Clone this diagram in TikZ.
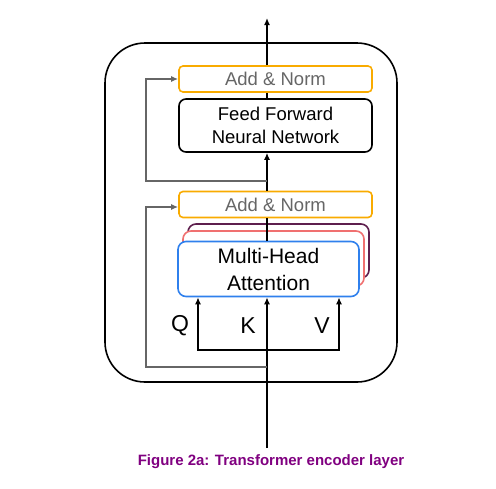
\documentclass[tikz,border=0pt]{standalone}
\usepackage{fontspec}
\setmainfont{Liberation Sans}
\usetikzlibrary{arrows.meta}
\definecolor{orng}{HTML}{F9AB00}
\definecolor{blu}{HTML}{2F80ED}
\definecolor{pnk}{HTML}{F07070}
\definecolor{plum}{HTML}{5E1F4E}
\definecolor{gry}{HTML}{666666}
\definecolor{capt}{HTML}{800080}
\begin{document}
\begin{tikzpicture}[x=1pt,y=-1pt,
  normbox/.style={draw=orng,line width=1.6pt,rounded corners=4pt,fill=white,minimum width=193pt,minimum height=26pt,inner sep=0pt,text=gry,font=\fontsize{18.5}{22}\selectfont},
  ffbox/.style={draw=black,line width=1.6pt,rounded corners=7pt,fill=white,minimum width=193pt,minimum height=53pt,inner sep=0pt,align=center,font=\fontsize{18.5}{23}\selectfont},
  attbox/.style={line width=1.6pt,rounded corners=8pt,fill=white,minimum width=181pt,minimum height=55pt,inner sep=0pt,align=center,font=\fontsize{21}{27}\selectfont},
  blk/.style={line width=1.6pt,-{Latex[length=7pt,width=6pt]}},
  res/.style={draw=gry,line width=1.6pt,-{Latex[length=7pt,width=6pt]}},
  lbl/.style={font=\fontsize{23}{23}\selectfont,inner sep=0pt}]
\useasboundingbox (0,0) rectangle (496,488);
% outer frame
\node[draw,line width=1.6pt,rounded corners=40pt,minimum width=292pt,minimum height=339pt,inner sep=0pt] (frame) at (251,212.5) {};
% boxes
\node[normbox] (an1) at (275.5,79) {Add \& Norm};
\node[ffbox] (ff) at (275.5,125.5) {Feed Forward\\Neural Network};
\node[normbox] (an2) at (275.5,204.5) {Add \& Norm};
\node[attbox,draw=plum,minimum width=181pt,minimum height=54pt] (h3) at (278.5,251) {};
\node[attbox,draw=pnk] (h2) at (273.5,258.5) {};
\node[attbox,draw=blu] (mha) at (268.5,269) {Multi-Head\\Attention};
% coordinates
\coordinate (top) at (267,18);
\coordinate (bot) at (267,448);
\coordinate (qx) at (198,350);
\coordinate (vx) at (339,350);
\coordinate (r1) at (267,181);
\coordinate (r2) at (267,367);
% main flow
\draw[blk] (bot) -- (mha.south -| bot);
\draw[line width=1.6pt] (mha.north -| top) -- (an2.south -| top);
\draw[blk] (an2.north -| top) -- (ff.south -| top);
\draw[line width=1.6pt] (ff.north -| top) -- (an1.south -| top);
\draw[blk] (an1.north -| top) -- (top);
% Q V
\draw[blk] (vx) -- (qx) -- (mha.south -| qx);
\draw[blk] (qx) -- (vx) -- (mha.south -| vx);
% residuals
\draw[res] (r1) -- (146,181) -- (146,79) -- (an1.west);
\draw[res] (r2) -- (146,367) -- (146,207) -- (an2.west |- 146,207);
% labels
\node[lbl] (q) at (180,326) {Q};
\node[lbl] (k) at (248,326) {K};
\node[lbl] (v) at (322,326) {V};
\node[font=\bfseries\fontsize{15}{17}\selectfont,text=capt,inner sep=0pt] (cap) at (271,462) {Figure 2a: Transformer encoder layer};
\end{tikzpicture}
\end{document}
